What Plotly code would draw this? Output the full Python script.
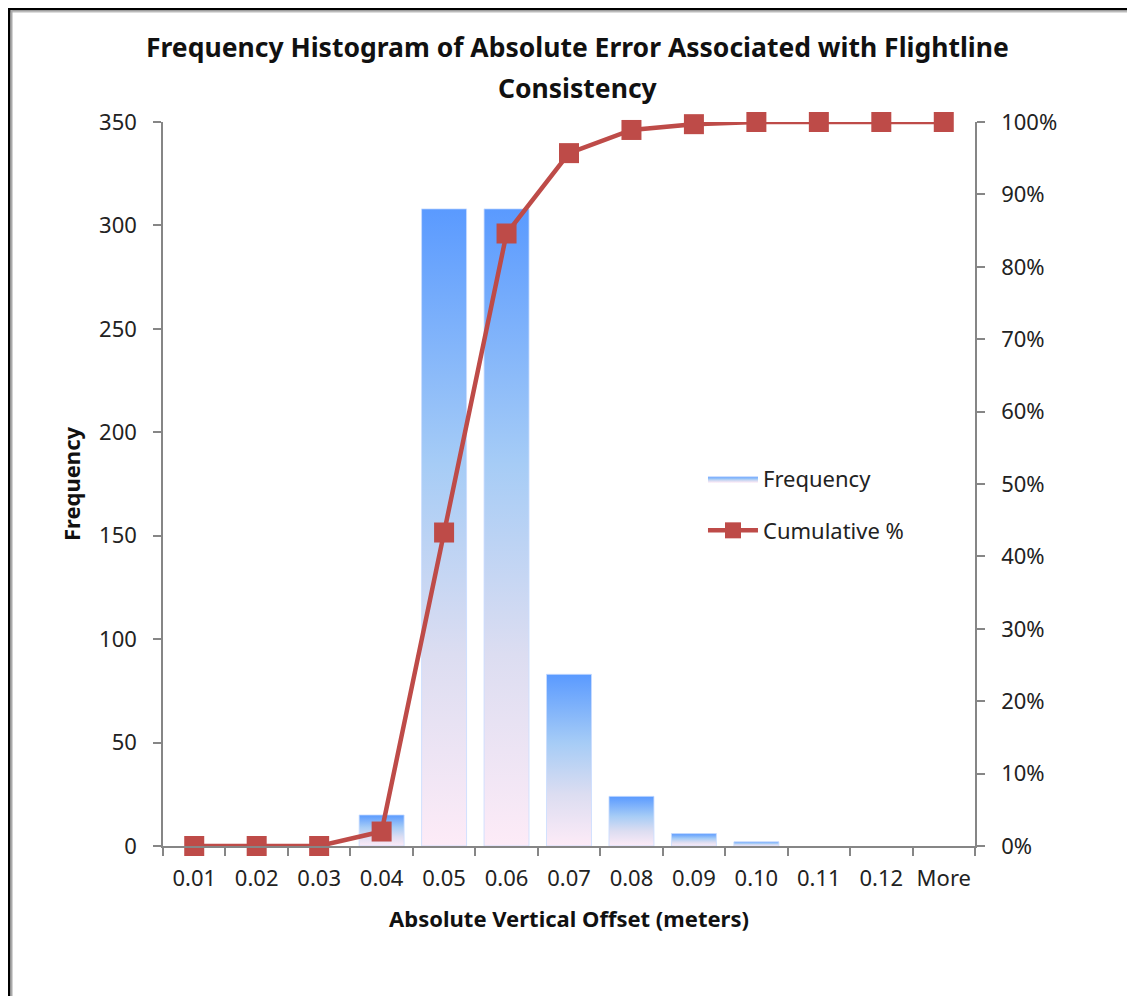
import plotly.graph_objects as go

categories = ["0.01", "0.02", "0.03", "0.04", "0.05", "0.06", "0.07",
              "0.08", "0.09", "0.10", "0.11", "0.12", "More"]
frequency = [0, 0, 0, 15, 308, 308, 83, 24, 6, 2, 0, 0, 0]
cumulative_pct = [0.0, 0.0, 0.0, 2.0, 43.3, 84.6, 95.7, 98.9, 99.7, 100.0, 100.0, 100.0, 100.0]
left_ticks = [0, 50, 100, 150, 200, 250, 300, 350]
right_ticks = [0, 10, 20, 30, 40, 50, 60, 70, 80, 90, 100]

FONT = "Noto Sans"
OFF = 8  # default page margin of the html body
W, H = 1135 - OFF, 996 - OFF
L, T = 163 - OFF, 122 - OFF
PW, PH = 812, 724
R, B = W - L - PW, H - T - PH
half = 0.36
bar_scale = [[0.0, "#FDEBF7"], [0.3, "#DCDDF1"], [0.6, "#A6CCF6"], [1.0, "#5A9AFF"]]

def px(x):  # page pixel -> paper x
    return (x - OFF - L) / PW
def py(y):  # page pixel -> paper y
    return (T + PH - (y - OFF)) / PH

fig = go.Figure()
idx = list(range(len(categories)))
first = True
for i, v in zip(idx, frequency):
    if v <= 0:
        continue
    fig.add_trace(go.Scatter(
        x=[i - half, i + half, i + half, i - half, i - half],
        y=[0, 0, v, v, 0],
        mode="lines", fill="toself",
        line=dict(width=1, color="rgba(200,220,255,0.8)"),
        fillgradient=dict(type="vertical", colorscale=bar_scale),
        name="Frequency", legendgroup="freq", showlegend=first,
        hoverinfo="skip", yaxis="y"))
    first = False

fig.add_trace(go.Scatter(
    x=idx, y=cumulative_pct, mode="lines+markers", cliponaxis=False,
    line=dict(color="#BE4B48", width=4.5),
    marker=dict(symbol="square", size=20, color="#BE4B48"),
    name="Cumulative %", yaxis="y2"))

axis_gray = "#868686"
TF = 22
fig.update_layout(
    width=W, height=H,
    margin=dict(l=L, r=R, t=T, b=B),
    paper_bgcolor="white", plot_bgcolor="white",
    font=dict(family=FONT, size=TF, color="#222"),
    showlegend=True,
    legend=dict(x=0.665, y=0.536, xref="paper", yref="paper", xanchor="left", yanchor="top",
                bgcolor="rgba(0,0,0,0)", font=dict(size=22, color="#222"),
                tracegroupgap=20, itemwidth=50),
    xaxis=dict(range=[-0.5, len(categories) - 0.5], tickmode="array",
               tickvals=idx, ticktext=categories, ticks="", showgrid=False,
               zeroline=False, showline=True, linecolor=axis_gray, linewidth=1.5,
               tickfont=dict(size=TF, color="#222"), ticklabelstandoff=12,
               minor=dict(tick0=-0.5, dtick=1, ticks="outside", ticklen=8,
                          tickcolor=axis_gray, tickwidth=1.5, showgrid=False),
               title=dict(text="<b>Absolute Vertical Offset (meters)</b>",
                          font=dict(size=22, color="#111"), standoff=20)),
    yaxis=dict(range=[0, 350], tickvals=left_ticks, ticks="outside", ticklen=8,
               tickcolor=axis_gray, tickwidth=1.5, showgrid=False, zeroline=False,
               showline=True, linecolor=axis_gray, linewidth=1.5,
               tickfont=dict(size=TF, color="#222"), ticklabelstandoff=12,
               title=dict(text="<b>Frequency</b>", font=dict(size=22, color="#111"), standoff=12)),
    yaxis2=dict(range=[0, 100], overlaying="y", side="right", tickvals=right_ticks,
                ticktext=[f"{t}%" for t in right_ticks], ticks="outside", ticklen=8,
                tickcolor=axis_gray, tickwidth=1.5, showgrid=False, zeroline=False,
                showline=True, linecolor=axis_gray, linewidth=1.5,
                tickfont=dict(size=TF, color="#222"), ticklabelstandoff=12),
)

title_lines = ["Frequency Histogram of Absolute Error Associated with Flightline", "Consistency"]
for text, yy in zip(title_lines, [47, 88]):
    fig.add_annotation(text=f"<b>{text}</b>", xref="paper", yref="paper",
                       x=px(577.5), y=py(yy), xanchor="center", yanchor="middle",
                       showarrow=False, font=dict(family=FONT, size=26.5, color="#111"))

# outer frame (top and left edges of the chart border)
fig.add_shape(type="line", xref="paper", yref="paper", x0=px(OFF), x1=px(1200), y0=py(OFF + 1), y1=py(OFF + 1),
              line=dict(color="black", width=3), layer="above")
fig.add_shape(type="line", xref="paper", yref="paper", x0=px(OFF + 2), x1=px(1200), y0=py(OFF + 3.5), y1=py(OFF + 3.5),
              line=dict(color="#BBBBBB", width=2), layer="above")
fig.add_shape(type="line", xref="paper", yref="paper", x0=px(OFF + 1), x1=px(OFF + 1), y0=py(OFF), y1=py(1100),
              line=dict(color="black", width=3), layer="above")
fig.add_shape(type="line", xref="paper", yref="paper", x0=px(OFF + 3.5), x1=px(OFF + 3.5), y0=py(OFF + 2), y1=py(1100),
              line=dict(color="#AAAAAA", width=2), layer="above")

fig.write_html("out.html")
